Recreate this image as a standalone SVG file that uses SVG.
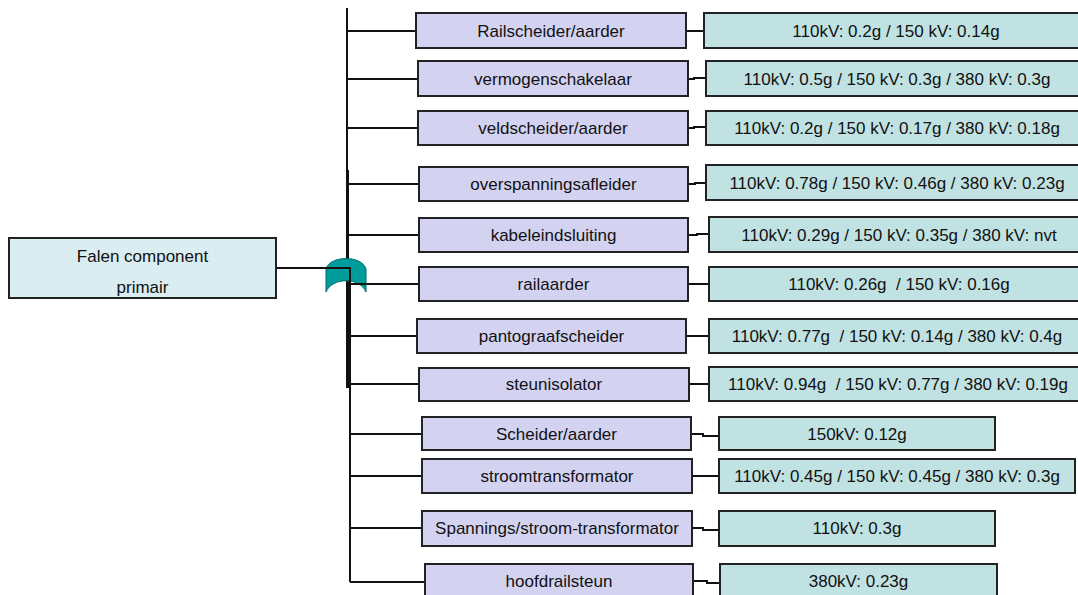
<svg xmlns="http://www.w3.org/2000/svg" width="1078" height="595" viewBox="0 0 1078 595">
<style>
text{font-family:"Liberation Sans",Arial,sans-serif;font-size:17px;fill:#111;text-anchor:middle}
.p{fill:#d3d3f1;stroke:#222;stroke-width:2}
.t{fill:#c1e2e2;stroke:#222;stroke-width:2}
.root{fill:#daedf1;stroke:#222;stroke-width:2}
.c{stroke:#111;stroke-width:2;fill:none}
</style>
<rect width="1078" height="595" fill="#fff"/>
<g id="connectors">
<path class="c" d="M347,8 V388"/>
<path class="c" d="M348,170 V388" stroke-width="3.5"/>
<path class="c" d="M350,268 V528" stroke-width="3"/>
<path class="c" d="M350,528 V582"/>
<path class="c" d="M276,268 H350" stroke-width="2.5"/>
<path class="c" d="M347,31 H416 M347,79 H418 M347,128 H418 M347,184 H419 M347,235 H419 M350,284 H419 M347,336 H417 M347,384 H419 M350,434 H422 M350,476 H422 M350,528 H422 M350,582 H425"/>
<path class="c" d="M686,31 H704 M688,79 H694 V78 H706 M688,128 H694 V127 H706 M688,184 H695 V183 H706 M688,235 H697 V234 H709 M688,284 H697 V284 H709 M686,336 H697 V336 H709 M689,384 H697 V384 H709 M691,434 H703 V436 H719 M692,476 H719 M692,528 H703 V530 H719 M693,581 H707 V583 H720"/>
</g>
<g id="gate">
<path d="M326,292 L326,269 C330,255 362,255 366,269 L366,292 C360,277 332,277 326,292 Z" fill="#009b9b" stroke="#006b6b" stroke-width="1"/>
<path class="c" d="M326,268 H350 V292" stroke-width="3"/>
<path class="c" d="M350,284 H366"/>
</g>
<g id="root">
<rect class="root" x="9" y="238" width="267" height="60"/>
<text x="142.5" y="262">Falen component</text>
<text x="142.5" y="293">primair</text>
</g>
<g id="n1"><rect class="p" x="416" y="13" width="270" height="35"/><text x="551" y="37">Railscheider/aarder</text></g>
<g id="v1"><rect class="t" x="704" y="13" width="390" height="35"/><text x="896" y="37">110kV: 0.2g / 150 kV: 0.14g</text></g>
<g id="n2"><rect class="p" x="418" y="61" width="270" height="35"/><text x="553" y="85">vermogenschakelaar</text></g>
<g id="v2"><rect class="t" x="706" y="61" width="390" height="35"/><text x="897" y="85">110kV: 0.5g / 150 kV: 0.3g / 380 kV: 0.3g</text></g>
<g id="n3"><rect class="p" x="418" y="111" width="270" height="34"/><text x="553" y="134">veldscheider/aarder</text></g>
<g id="v3"><rect class="t" x="706" y="111" width="390" height="34"/><text x="897" y="134">110kV: 0.2g / 150 kV: 0.17g / 380 kV: 0.18g</text></g>
<g id="n4"><rect class="p" x="419" y="167" width="269" height="34"/><text x="553.5" y="190">overspanningsafleider</text></g>
<g id="v4"><rect class="t" x="706" y="165" width="390" height="35"/><text x="897" y="189">110kV: 0.78g / 150 kV: 0.46g / 380 kV: 0.23g</text></g>
<g id="n5"><rect class="p" x="419" y="218" width="269" height="34"/><text x="553.5" y="241">kabeleindsluiting</text></g>
<g id="v5"><rect class="t" x="709" y="217" width="390" height="35"/><text x="899" y="241">110kV: 0.29g / 150 kV: 0.35g / 380 kV: nvt</text></g>
<g id="n6"><rect class="p" x="419" y="267" width="269" height="34"/><text x="553.5" y="290">railaarder</text></g>
<g id="v6"><rect class="t" x="709" y="267" width="390" height="34"/><text x="899" y="290" xml:space="preserve">110kV: 0.26g  / 150 kV: 0.16g</text></g>
<g id="n7"><rect class="p" x="417" y="319" width="269" height="34"/><text x="551.5" y="342">pantograafscheider</text></g>
<g id="v7"><rect class="t" x="709" y="319" width="390" height="34"/><text x="897" y="342" xml:space="preserve">110kV: 0.77g  / 150 kV: 0.14g / 380 kV: 0.4g</text></g>
<g id="n8"><rect class="p" x="419" y="368" width="270" height="33"/><text x="554" y="390">steunisolator</text></g>
<g id="v8"><rect class="t" x="709" y="367" width="390" height="34"/><text x="898" y="390" xml:space="preserve">110kV: 0.94g  / 150 kV: 0.77g / 380 kV: 0.19g</text></g>
<g id="n9"><rect class="p" x="422" y="417" width="269" height="33"/><text x="556.5" y="440">Scheider/aarder</text></g>
<g id="v9"><rect class="t" x="719" y="417" width="276" height="33"/><text x="857" y="440">150kV: 0.12g</text></g>
<g id="n10"><rect class="p" x="422" y="459" width="270" height="34"/><text x="557" y="482">stroomtransformator</text></g>
<g id="v10"><rect class="t" x="719" y="459" width="356" height="34"/><text x="897" y="482">110kV: 0.45g / 150 kV: 0.45g / 380 kV: 0.3g</text></g>
<g id="n11"><rect class="p" x="422" y="511" width="270" height="35"/><text x="557" y="534">Spannings/stroom-transformator</text></g>
<g id="v11"><rect class="t" x="719" y="511" width="276" height="35"/><text x="857" y="534">110kV: 0.3g</text></g>
<g id="n12"><rect class="p" x="425" y="564" width="268" height="40"/><text x="559" y="587">hoofdrailsteun</text></g>
<g id="v12"><rect class="t" x="720" y="564" width="277" height="40"/><text x="858.5" y="587">380kV: 0.23g</text></g>
</svg>
